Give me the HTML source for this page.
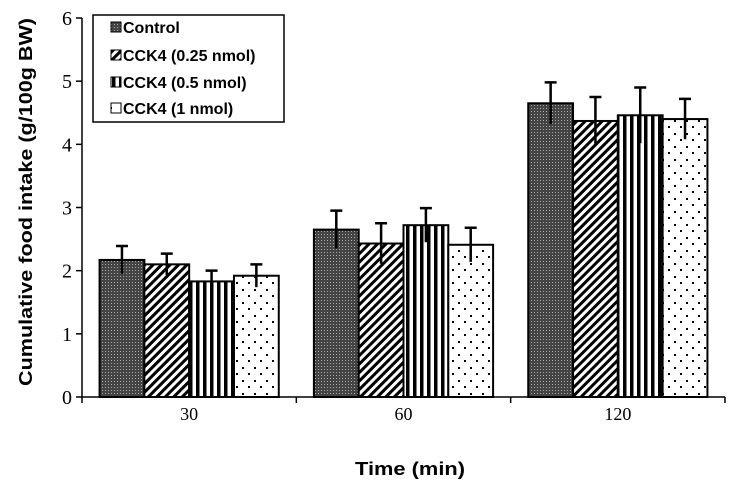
<!DOCTYPE html>
<html><head><meta charset="utf-8"><style>
body{margin:0;background:#fff;}
svg{display:block;}
</style></head><body>
<svg id="chart" width="732" height="491" xmlns="http://www.w3.org/2000/svg">
<defs>
<pattern id="p0" width="3" height="3" patternUnits="userSpaceOnUse"><rect width="3" height="3" fill="#444"/><rect width="1" height="1" fill="#aaa"/></pattern>
<pattern id="p1" width="6" height="6" patternUnits="userSpaceOnUse" patternTransform="rotate(45)"><rect width="6" height="6" fill="#fff"/><rect width="3" height="6" fill="#000"/></pattern>
<pattern id="p2" width="7" height="6" patternUnits="userSpaceOnUse"><rect width="7" height="6" fill="#fff"/><rect width="3.5" height="6" fill="#000"/></pattern>
<pattern id="p3" width="12" height="13" patternUnits="userSpaceOnUse"><rect width="12" height="13" fill="#fff"/><rect x="2" y="3" width="2" height="2" fill="#000"/><rect x="8" y="9" width="2" height="2" fill="#000"/></pattern>
</defs>
<g id="bars"></g>
<g id="axes"></g>
<g>
<rect x="93" y="15" width="191" height="107" fill="#fff" stroke="#000" stroke-width="1.5"/>
<g font-family="Liberation Sans, sans-serif" font-weight="bold" font-size="16">
<rect x="111" y="22" width="10" height="10" fill="url(#p0)" stroke="#000"/><text x="123" y="33">Control</text>
<rect x="111" y="50" width="10" height="10" fill="url(#p1)" stroke="#000"/><text x="123" y="61">CCK4 (0.25 nmol)</text>
<rect x="111" y="77" width="10" height="10" fill="url(#p2)" stroke="#000"/><text x="123" y="88">CCK4 (0.5 nmol)</text>
<rect x="111" y="103" width="10" height="10" fill="url(#p3)" stroke="#000"/><text x="123" y="114">CCK4 (1 nmol)</text>
</g></g>
<text x="410" y="475" text-anchor="middle" font-family="Liberation Sans, sans-serif" font-weight="bold" font-size="18" textLength="110" lengthAdjust="spacingAndGlyphs">Time (min)</text>
<text transform="translate(32,202) rotate(-90)" text-anchor="middle" font-family="Liberation Sans, sans-serif" font-weight="bold" font-size="18" textLength="368" lengthAdjust="spacingAndGlyphs">Cumulative food intake (g/100g BW)</text>
</svg>
<script>
const categories = ["30","60","120"];
const seriesNames = ["Control","CCK4 (0.25 nmol)","CCK4 (0.5 nmol)","CCK4 (1 nmol)"];
const control = [2.17, 2.65, 4.65];
const cck025 = [2.10, 2.43, 4.37];
const cck05 = [1.83, 2.72, 4.46];
const cck1 = [1.92, 2.41, 4.40];
const errControl = [0.22, 0.30, 0.33];
const err025 = [0.17, 0.32, 0.38];
const err05 = [0.17, 0.27, 0.44];
const err1 = [0.18, 0.27, 0.32];
const yTicks = [0,1,2,3,4,5,6];

const NS="http://www.w3.org/2000/svg";
const X0=82, X1=725, Y0=397, Y6=18;
const y=v=>Y0-(v/6)*(Y0-Y6);
const groupW=(X1-X0)/categories.length;
const barW=44.8, pad=(groupW-4*barW)/2;
const xBar=(g,s)=>X0+g*groupW+pad+s*barW;
function mk(tag,attrs,parent){const e=document.createElementNS(NS,tag);for(const k in attrs)e.setAttribute(k,attrs[k]);parent.appendChild(e);return e;}
const barsG=document.getElementById('bars'), axG=document.getElementById('axes');
const series=[control,cck025,cck05,cck1], errs=[errControl,err025,err05,err1];
categories.forEach((c,g)=>{
  series.forEach((vals,s)=>{
    const x=xBar(g,s), v=vals[g];
    const r=mk('rect',{x:x,y:y(v),width:barW,height:Y0-y(v),fill:`url(#p${s})`,stroke:'#000','stroke-width':2},barsG);
    
    
    const cx=x+barW/2, e=errs[s][g];
    const eb=mk('path',{d:`M${cx} ${y(v-e)}V${y(v+e)}M${cx-6} ${y(v+e)}H${cx+6}`,stroke:'#000','stroke-width':2.5,fill:'none'},barsG);
    
    
  });
  const t=mk('text',{x:X0+g*groupW+groupW/2,y:420,'text-anchor':'middle','font-family':'Liberation Serif, serif','font-size':18},axG);
  t.textContent=c;
  
  
});
mk('path',{d:`M${X0} ${Y6}V${Y0}H${X1}`,stroke:'#000','stroke-width':1.5,fill:'none'},axG);
for(let i=0;i<=categories.length;i++){mk('path',{d:`M${X0+i*groupW} ${Y0}v6`,stroke:'#000','stroke-width':1.5},axG);}
yTicks.forEach(v=>{
  mk('path',{d:`M${X0-6} ${y(v)}H${X0}`,stroke:'#000','stroke-width':1.5},axG);
  const t=mk('text',{x:72,y:y(v)+7,'text-anchor':'end','font-family':'Liberation Serif, serif','font-size':20},axG);
  t.textContent=v;
  
  
});
</script>
</body></html>
